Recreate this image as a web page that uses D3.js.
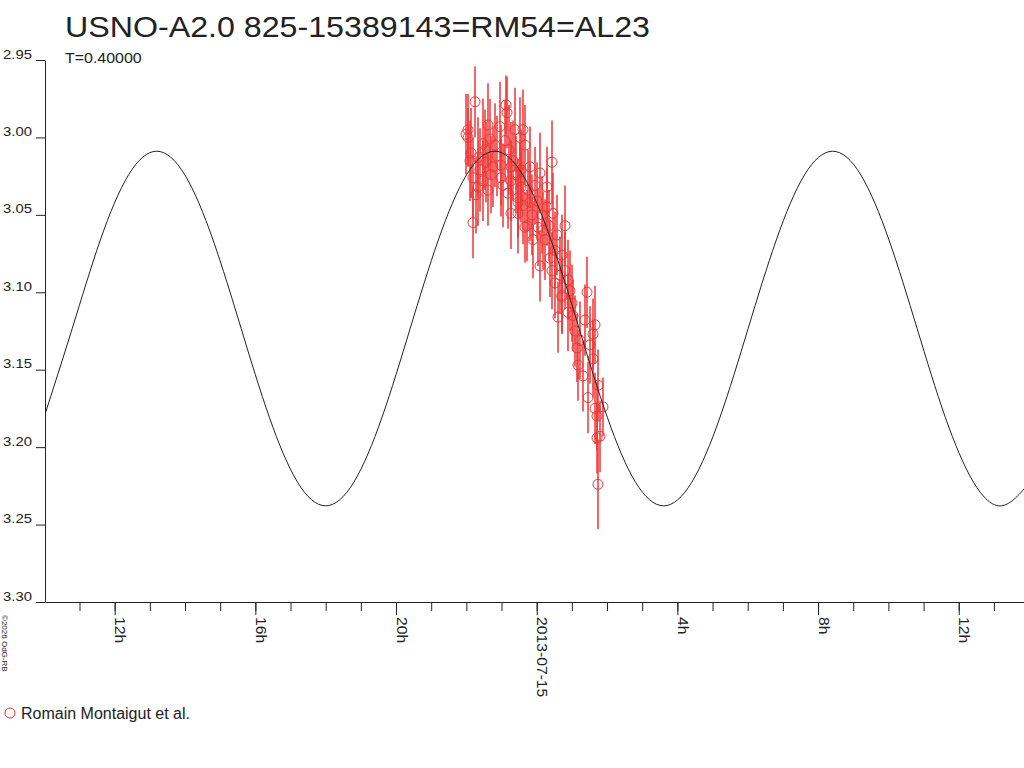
<!DOCTYPE html>
<html>
<head>
<meta charset="utf-8">
<script src="https://cdn.jsdelivr.net/npm/d3@7"></script>
<style>
  body { margin: 0; background: #fff; }
  text { font-family: "Liberation Sans", Arial, sans-serif; fill: #222; }
</style>
</head>
<body>
<svg id="chart"></svg>
<script>
const svgWidth = 1024,
    svgHeight = 768,
    margin = {top: 60, right: 0, bottom: 167, left: 45},
    width = svgWidth - margin.left - margin.right,
    height = svgHeight - margin.top - margin.bottom;

const red = "#f03535";

const titleText = "USNO-A2.0 825-15389143=RM54=AL23";
const periodText = "T=0.40000";
const legendText = "Romain Montaigut et al.";
const creditText = "\u00a92026 OdG-RB";

// hours relative to 2013-07-15 00:00 UT
const xStartHour = -13.981, xEndHour = 13.856;
const yTicks = [2.95, 3.00, 3.05, 3.10, 3.15, 3.20, 3.25, 3.30];

// observations (hours from 2013-07-15 0h UT, magnitude, error)
const obsHour = [-2.010, -1.953, -1.953, -1.868, -1.811, -1.811, -1.754, -1.669, -1.669, -1.527,
    -1.527, -1.442, -1.385, -1.385, -1.299, -1.243, -1.186, -1.043, -1.015, -1.015,
    -0.901, -0.873, -0.844, -0.816, -0.731, -0.731, -0.731, -0.617, -0.532, -0.446,
    -0.446, -0.390, -0.390, -0.333, -0.333, -0.475, 0.435, -0.191, 0.094, -0.475,
    -0.048, 0.293, -0.532, -0.191, 0.293, 0.463, 0.151, -0.532, -0.276, 0.037,
    0.805, -0.105, 0.236, 0.520, 0.719, 0.094, 0.435, 0.805, 0.890, 0.520,
    0.719, 1.004, 0.606, 0.890, 1.430, 1.658, 1.601, 1.231, 0.719, 1.032,
    1.174, 1.601, 1.743, 1.459, 1.715, 1.800, 1.715, 1.743, 1.885, 1.658,
    -1.896, -1.726, -1.612, -1.470, -1.328, -1.129, -0.958, -0.788, -0.674, -0.589,
    -0.247, -0.134, 0.009, 0.179, 0.350, 0.577, 0.662, 0.947, 1.089, 1.316,
    1.516, 1.373, 1.146, 0.378];
const obsMag = [2.998, 2.995, 3.000, 3.010, 3.026, 3.055, 2.977, 3.013, 3.032, 3.004,
    3.028, 3.016, 2.992, 3.034, 3.024, 3.019, 3.005, 2.993, 3.018, 3.026,
    3.002, 2.979, 2.984, 3.036, 3.019, 3.028, 3.049, 2.995, 3.039, 3.021,
    3.032, 2.995, 3.044, 3.005, 3.058, 3.000, 3.016, 3.019, 3.023, 3.028,
    3.031, 3.032, 3.042, 3.042, 3.045, 3.049, 3.050, 3.049, 3.057, 3.058,
    3.057, 3.066, 3.066, 3.073, 3.076, 3.083, 3.086, 3.086, 3.092, 3.094,
    3.102, 3.107, 3.116, 3.113, 3.100, 3.121, 3.127, 3.131, 3.103, 3.115,
    3.147, 3.143, 3.160, 3.168, 3.180, 3.193, 3.194, 3.224, 3.174, 3.175,
    3.015, 3.037, 3.021, 3.008, 3.001, 3.012, 3.031, 3.008, 3.015, 3.024,
    3.034, 3.050, 3.041, 3.060, 3.057, 3.063, 3.089, 3.099, 3.125, 3.154,
    3.134, 3.118, 3.136, 3.078];
const obsErr = [0.026, 0.023, 0.019, 0.029, 0.026, 0.023, 0.023, 0.026, 0.025, 0.029,
    0.026, 0.026, 0.027, 0.023, 0.025, 0.026, 0.027, 0.029, 0.026, 0.025,
    0.026, 0.019, 0.023, 0.023, 0.029, 0.026, 0.023, 0.027, 0.025, 0.026,
    0.023, 0.026, 0.025, 0.026, 0.023, 0.026, 0.027, 0.026, 0.026, 0.025,
    0.025, 0.026, 0.023, 0.025, 0.025, 0.026, 0.025, 0.026, 0.023, 0.025,
    0.026, 0.025, 0.026, 0.025, 0.026, 0.023, 0.025, 0.025, 0.026, 0.023,
    0.025, 0.025, 0.023, 0.025, 0.023, 0.025, 0.023, 0.025, 0.023, 0.023,
    0.023, 0.025, 0.023, 0.023, 0.022, 0.023, 0.023, 0.029, 0.019, 0.023,
    0.026, 0.025, 0.027, 0.026, 0.026, 0.026, 0.027, 0.029, 0.026, 0.025,
    0.026, 0.026, 0.025, 0.025, 0.023, 0.026, 0.025, 0.026, 0.023, 0.023,
    0.025, 0.023, 0.022, 0.025];

// model light curve
const curveHour = [-14.008, -13.207, -12.407, -11.606, -10.805, -10.004, -9.203, -8.403, -7.602, -6.801,
    -6.000, -5.199, -4.398, -3.598, -2.797, -1.996, -1.195, -0.394, 0.406, 1.207,
    2.008, 2.809, 3.610, 4.411, 5.212, 6.012, 6.813, 7.614, 8.415, 9.216,
    10.017, 10.817, 11.618, 12.419, 13.220, 14.021];
const curveMag = [3.1807, 3.1234, 3.0662, 3.0242, 3.0089, 3.0242, 3.0662, 3.1234, 3.1807, 3.2226,
    3.2379, 3.2226, 3.1807, 3.1234, 3.0662, 3.0242, 3.0089, 3.0242, 3.0662, 3.1234,
    3.1807, 3.2226, 3.2379, 3.2226, 3.1807, 3.1234, 3.0662, 3.0242, 3.0089, 3.0242,
    3.0662, 3.1234, 3.1807, 3.2226, 3.2379, 3.2226];

const base = Date.UTC(2013, 6, 15);
const toDate = h => new Date(base + h * 3600e3);

const chart = d3.select("#chart")
    .attr("width", svgWidth)
    .attr("height", svgHeight);

chart.append("rect").attr("width", svgWidth).attr("height", svgHeight).attr("fill", "#fff");

const xScale = d3.scaleUtc()
    .domain([toDate(xStartHour), toDate(xEndHour)])
    .range([margin.left, margin.left + width]);
const yScale = d3.scaleLinear()
    .domain([2.95, 3.30])
    .range([margin.top, margin.top + height + 1]);

// text drawn with a slight horizontal stretch like the original renderer
function stretchText(parent, x, y, str, size, sx, rot, anchor) {
    return parent.append("text")
        .attr("transform", `translate(${x},${y}) rotate(${rot || 0}) scale(${sx},1)`)
        .attr("text-anchor", anchor || "start")
        .style("font-size", size + "px")
        .text(str);
}

// clip
chart.append("clipPath").attr("id", "plotclip")
    .append("rect")
    .attr("x", margin.left).attr("y", margin.top)
    .attr("width", width).attr("height", height + 1);

// observations
const obs = obsHour.map((h, i) => ({date: toDate(h), mag: obsMag[i], err: obsErr[i]}));
const obsG = chart.append("g").attr("clip-path", "url(#plotclip)");

obsG.selectAll(".bar")
    .data(obs)
    .enter()
    .append("line")
    .attr("class", "bar")
    .attr("x1", d => xScale(d.date))
    .attr("x2", d => xScale(d.date))
    .attr("y1", d => yScale(d.mag - d.err))
    .attr("y2", d => yScale(d.mag + d.err))
    .attr("stroke", red)
    .attr("stroke-width", 1.5);

obsG.selectAll(".dot")
    .data(obs)
    .enter()
    .append("circle")
    .attr("class", "dot")
    .attr("cx", d => xScale(d.date))
    .attr("cy", d => yScale(d.mag))
    .attr("r", 5)
    .attr("fill", "none")
    .attr("stroke", red)
    .attr("stroke-width", 1);

// model curve
const valueline = d3.line()
    .x(d => xScale(d.date))
    .y(d => yScale(d.mag))
    .curve(d3.curveNatural);

chart.append("path")
    .attr("clip-path", "url(#plotclip)")
    .datum(curveHour.map((h, i) => ({date: toDate(h), mag: curveMag[i]})))
    .attr("d", valueline)
    .attr("fill", "none")
    .attr("stroke", "#222")
    .attr("stroke-width", 1);

// y axis
const yAxis = chart.append("g")
    .attr("transform", `translate(${margin.left},0)`)
    .call(d3.axisLeft(yScale).tickValues(yTicks).tickSize(9).tickSizeOuter(0).tickFormat(d3.format(".2f")));
yAxis.select(".domain").attr("stroke", "#222");
yAxis.selectAll(".tick line").attr("stroke", "#222");
yAxis.selectAll(".tick text")
    .attr("x", null).attr("dy", null)
    .attr("transform", "translate(-13,-2) scale(1.24,1)")
    .style("font-size", "12px")
    .style("font-family", "'Liberation Sans', Arial, sans-serif")
    .attr("fill", "#222");

// x axis: hourly minor ticks, 4-hour labelled ticks
const xAxisY = yScale(3.30);
const minorTicks = d3.utcHour.every(1).range(xScale.domain()[0], xScale.domain()[1]);
const majorTicks = minorTicks.filter(d => d.getUTCHours() % 4 === 0);

const xMinor = chart.append("g")
    .attr("transform", `translate(0,${xAxisY})`)
    .call(d3.axisBottom(xScale).tickValues(minorTicks).tickSize(9).tickSizeOuter(0).tickFormat(""));
xMinor.select(".domain").attr("stroke", "#222");
xMinor.selectAll(".tick line").attr("stroke", "#222");

const xMajor = chart.append("g")
    .attr("transform", `translate(0,${xAxisY})`)
    .call(d3.axisBottom(xScale).tickValues(majorTicks).tickSize(13).tickSizeOuter(0)
        .tickFormat(d => d.getUTCHours() === 0 ? d3.utcFormat("%Y-%m-%d")(d) : d.getUTCHours() + "h"));
xMajor.select(".domain").remove();
xMajor.selectAll(".tick line").attr("stroke", "#222");
xMajor.selectAll(".tick text")
    .attr("x", 13.5).attr("y", 0).attr("dy", null)
    .attr("transform", "rotate(90) scale(1.12,1)")
    .attr("text-anchor", "start")
    .style("font-size", "14px")
    .style("font-family", "'Liberation Sans', Arial, sans-serif")
    .attr("fill", "#222");

// titles
stretchText(chart, 65, 37, titleText, 29, 1.11);
stretchText(chart, 65, 63, periodText, 14, 1.14);

// credit
stretchText(chart, 1.5, 615, creditText, 8, 1, 90);

// legend
chart.append("circle")
    .attr("cx", 10).attr("cy", 713).attr("r", 5)
    .attr("fill", "none").attr("stroke", red);
stretchText(chart, 21, 719, legendText, 16, 1);
</script>
</body>
</html>
